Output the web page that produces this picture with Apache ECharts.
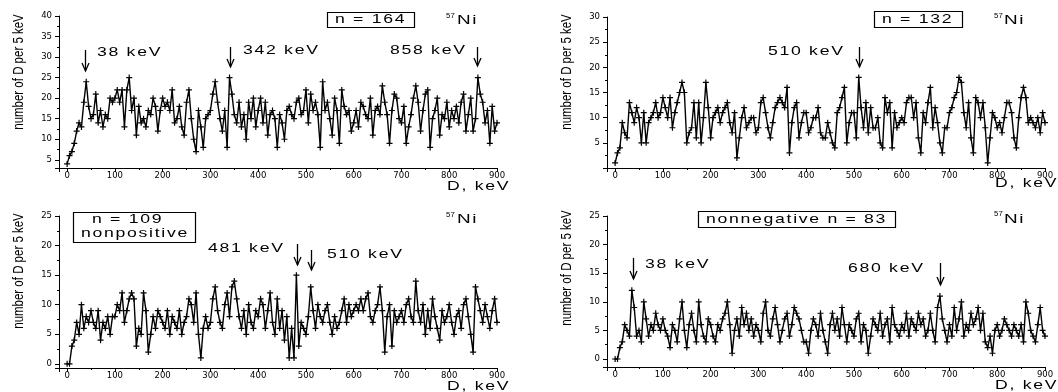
<!DOCTYPE html>
<html>
<head>
<meta charset="utf-8">
<script src="https://cdn.jsdelivr.net/npm/echarts@6/dist/echarts.min.js"></script>
<style>
  html, body { margin: 0; padding: 0; background: #fff; }
  #chart { width: 1058px; height: 392px; }
</style>
</head>
<body>
<div id="chart"></div>
<script>
// bin width of the D spectra, keV (bins start at 0)
const binWidth = 5;

// counts per 5 keV bin, 0 ... 900 keV
const countsAll164 = [
  4,6,7,9,12,14,13,19,24,18,15,16,21,14,17,13,16,15,20,19,
  20,22,19,22,13,22,25,17,20,11,18,14,15,13,17,16,20,18,12,17,
  20,18,19,17,22,14,15,18,13,11,19,22,15,10,7,17,13,8,15,16,
  17,21,24,19,15,12,17,8,25,21,16,14,19,13,16,10,19,15,20,13,
  17,20,14,19,11,16,17,15,8,16,14,10,17,18,16,15,19,20,16,17,
  22,14,21,17,19,16,8,24,17,19,15,11,20,17,9,22,18,16,17,12,
  14,17,13,19,18,16,15,20,11,17,18,16,23,19,16,9,17,21,20,15,
  14,18,9,13,16,20,23,19,12,17,21,22,8,15,17,20,11,16,15,19,
  13,17,15,18,14,19,21,12,16,20,12,15,25,21,19,14,17,9,18,12,
  14
];
const countsAll132 = [
  1,3,4,9,7,6,13,11,9,12,10,5,11,5,9,10,11,13,10,11,
  14,12,10,14,8,11,13,15,17,15,5,7,8,13,6,13,5,10,17,12,
  6,10,11,12,9,11,12,13,9,7,11,2,6,10,12,8,9,10,10,7,
  8,13,14,11,8,6,9,12,13,14,13,12,16,3,9,12,13,6,9,11,
  11,7,8,10,10,12,7,6,6,9,7,5,4,11,12,14,16,5,9,11,
  11,6,18,12,8,13,7,12,8,8,10,5,4,14,11,13,4,11,8,9,
  10,9,13,14,14,10,13,6,3,11,9,13,16,8,12,9,5,3,8,8,
  11,12,14,15,18,17,11,8,13,6,3,14,13,10,13,8,1,6,11,10,
  8,9,7,10,13,13,11,6,4,10,14,16,14,9,10,9,8,10,7,11,
  9
];
const countsNonpos109 = [
  0,0,3,4,7,5,10,6,8,7,9,7,6,9,4,7,6,8,5,8,
  8,10,9,12,7,9,11,12,11,3,6,5,12,9,2,5,8,6,9,8,
  7,6,9,5,8,7,6,9,5,7,8,11,10,7,12,5,1,6,8,6,
  7,11,13,9,7,6,10,12,8,13,14,11,8,6,9,5,10,7,6,9,
  8,11,10,6,9,12,7,5,11,6,9,4,8,1,6,1,15,3,7,6,
  5,8,13,9,6,10,8,7,9,10,7,5,8,6,7,9,11,7,10,8,
  9,10,9,11,9,11,12,8,7,9,10,13,9,2,8,10,3,9,7,8,
  9,7,10,11,8,7,14,9,7,10,5,9,6,11,8,6,4,9,7,8,
  10,7,5,8,9,6,10,11,8,5,2,13,11,9,7,10,8,6,9,11,
  7
];
const countsNonneg83 = [
  0,0,2,3,6,5,4,12,9,4,5,3,10,7,4,6,5,8,6,5,
  7,5,4,2,6,5,3,7,10,5,2,6,8,5,3,10,6,4,3,7,
  6,4,3,6,5,7,8,10,6,1,5,7,4,9,6,8,5,7,4,6,
  5,3,8,10,5,4,7,9,6,3,5,7,8,4,6,9,8,7,5,3,
  3,1,5,7,6,4,8,5,3,1,6,8,5,7,4,9,6,3,6,5,
  4,7,8,3,6,5,1,4,7,6,5,8,4,6,7,3,9,6,5,4,
  6,5,8,4,7,6,5,8,6,7,4,5,8,5,3,9,11,7,5,3,
  6,4,9,5,7,10,4,6,5,8,6,7,9,5,8,3,2,4,1,5,
  6,4,5,7,6,5,4,6,5,4,6,3,10,8,5,4,3,6,9,5,
  4
];

const panelCounts = [countsAll164, countsAll132, countsNonpos109, countsNonneg83];
const panelBoxText = [['n = 164'], ['n = 132'], ['n = 109', 'nonpositive'], ['nonnegative n = 83']];
// marked peaks: panel and energy in keV
const peakPanel = [0, 0, 0, 1, 2, 2, 3, 3];
const peakEnergy = [38, 342, 858, 510, 481, 510, 38, 680];

// axis ranges
const xMin = -17, xMax = 900;
const yMin = [3, 0, -0.7, -1.4];
const yMax = [40, 30, 25, 25];
const ySplit = [8, 6, 5, 5];

const grids = [
  { left: 59, top: 16, width: 438, height: 152 },
  { left: 607, top: 17, width: 438, height: 151 },
  { left: 59, top: 216, width: 438, height: 152 },
  { left: 607, top: 216, width: 438, height: 151 }
];

const chart = echarts.init(document.getElementById('chart'), null, { renderer: 'canvas' });

const black = '#000';
// Origin "+" marker
const plusSymbol = 'path://M4,0h2v4h4v2h-4v4h-2v-4h-4v-2h4z';

const option = {
  animation: false,
  backgroundColor: '#fff',
  grid: grids,
  xAxis: grids.map((g, i) => ({
    type: 'value',
    gridIndex: i,
    min: xMin,
    max: xMax,
    splitNumber: 9,
    axisLine: { show: true, onZero: false, lineStyle: { color: black, width: 1 } },
    axisTick: { show: true, inside: false, length: 4, lineStyle: { color: black } },
    minorTick: { show: true, splitNumber: 2, length: 2, lineStyle: { color: black } },
    splitLine: { show: false },
    axisLabel: {
      margin: 3, color: black, fontFamily: 'DejaVu Sans', fontSize: 8.5,
      formatter: v => (v < 0 ? '' : String(v))
    }
  })),
  yAxis: grids.map((g, i) => ({
    type: 'value',
    gridIndex: i,
    min: yMin[i],
    max: yMax[i],
    splitNumber: ySplit[i],
    axisLine: { show: true, onZero: false, lineStyle: { color: black, width: 1 } },
    axisTick: { show: true, inside: false, length: 4, lineStyle: { color: black } },
    minorTick: { show: true, splitNumber: 2, length: 2, lineStyle: { color: black } },
    splitLine: { show: false },
    axisLabel: {
      margin: 7, color: black, fontFamily: 'DejaVu Sans', fontSize: 8.5,
      formatter: v => (v <= yMin[i] || v % 5 !== 0 ? '' : String(v))
    }
  })),
  series: panelCounts.map((counts, i) => ({
    type: 'line',
    xAxisIndex: i,
    yAxisIndex: i,
    data: counts.map((c, k) => [k * binWidth, c]),
    symbol: plusSymbol,
    symbolSize: 6,
    showAllSymbol: true,
    lineStyle: { color: black, width: 1.4 },
    itemStyle: { color: black },
    silent: true
  }))
};
chart.setOption(option);

// Origin-style text: glyphs stretched horizontally with a little extra spacing
const measure = document.createElement('canvas').getContext('2d');
const family = '"Liberation Sans", Arial, sans-serif';
function wideText(str, x, y, size, stretch, gap) {
  measure.font = size + 'px ' + family;
  const out = [];
  let cx = x;
  for (const ch of str) {
    out.push({
      type: 'text', x: cx, y: y, scaleX: stretch, silent: true,
      style: { text: ch, fontSize: size, fontFamily: family, fill: black, textAlign: 'left', textVerticalAlign: 'middle' }
    });
    cx += measure.measureText(ch).width * stretch + gap;
  }
  return out;
}

const gfx = [];
const fs = 12.6, stretch = 1.4, gap = 1.7;

// y axis titles
[[19, 72], [567, 72], [19, 271], [567, 268]].forEach(p => {
  gfx.push({
    type: 'text', x: p[0], y: p[1], rotation: Math.PI / 2, scaleX: 0.82, silent: true,
    style: { text: 'number of D per 5 keV', fontSize: 14, fontFamily: family,
      fill: black, textAlign: 'center', textVerticalAlign: 'middle' }
  });
});
// x axis titles
[[447, 187], [995, 184], [447, 387], [995, 386]].forEach(p => gfx.push(...wideText('D, keV', p[0], p[1], fs, stretch, gap)));

// 57Ni labels
[[446, 16, 457, 20.7], [994, 16, 1004, 20.7], [446, 215, 457, 219.5], [994, 214.5, 1004, 219.5]].forEach(p => {
  gfx.push(...wideText('57', p[0], p[1], 7, 1.1, 0.3));
  gfx.push(...wideText('Ni', p[2], p[3], 13.5, 1.4, 1.5));
});

// boxes
const boxRects = [[327, 12, 87, 15], [874, 11, 88, 16], [73, 212, 122, 30], [698, 211, 197, 16]];
boxRects.forEach(r => gfx.push({
  type: 'rect', silent: true, shape: { x: r[0] + 0.5, y: r[1] + 0.5, width: r[2], height: r[3] },
  style: { fill: 'none', stroke: black, lineWidth: 1.2 }
}));
const boxTextPos = [[[335, 19.5]], [[882, 19.5]], [[92, 220], [81, 233.5]], [[706, 219.5]]];
panelBoxText.forEach((lines, i) => lines.forEach((t, j) =>
  gfx.push(...wideText(t, boxTextPos[i][j][0], boxTextPos[i][j][1], fs, stretch, gap))));

// peak labels and arrows
const peakLabelPos = [[97, 53], [243, 51], [390, 51], [768, 52], [208, 248.5], [327, 255], [645, 264.5], [848, 269]];
const peakArrowY = [[50, 71], [47, 67], [47, 66], [47, 67], [244, 265], [250, 270], [258, 279], [263, 285]];
peakEnergy.forEach((e, k) => {
  gfx.push(...wideText(e + ' keV', peakLabelPos[k][0], peakLabelPos[k][1], fs, stretch, gap));
  const x = Math.round(chart.convertToPixel({ xAxisIndex: peakPanel[k] }, e)) + 0.5;
  const [t, b] = peakArrowY[k];
  gfx.push({ type: 'line', silent: true, shape: { x1: x, y1: t, x2: x, y2: b }, style: { stroke: black, lineWidth: 1.3 } });
  gfx.push({ type: 'polyline', silent: true, shape: { points: [[x - 3.5, b - 8], [x, b], [x + 3.5, b - 8]] },
    style: { stroke: black, lineWidth: 1.3, fill: null } });
});

chart.setOption({ graphic: gfx });
window.addEventListener('resize', () => chart.resize());
</script>
</body>
</html>
